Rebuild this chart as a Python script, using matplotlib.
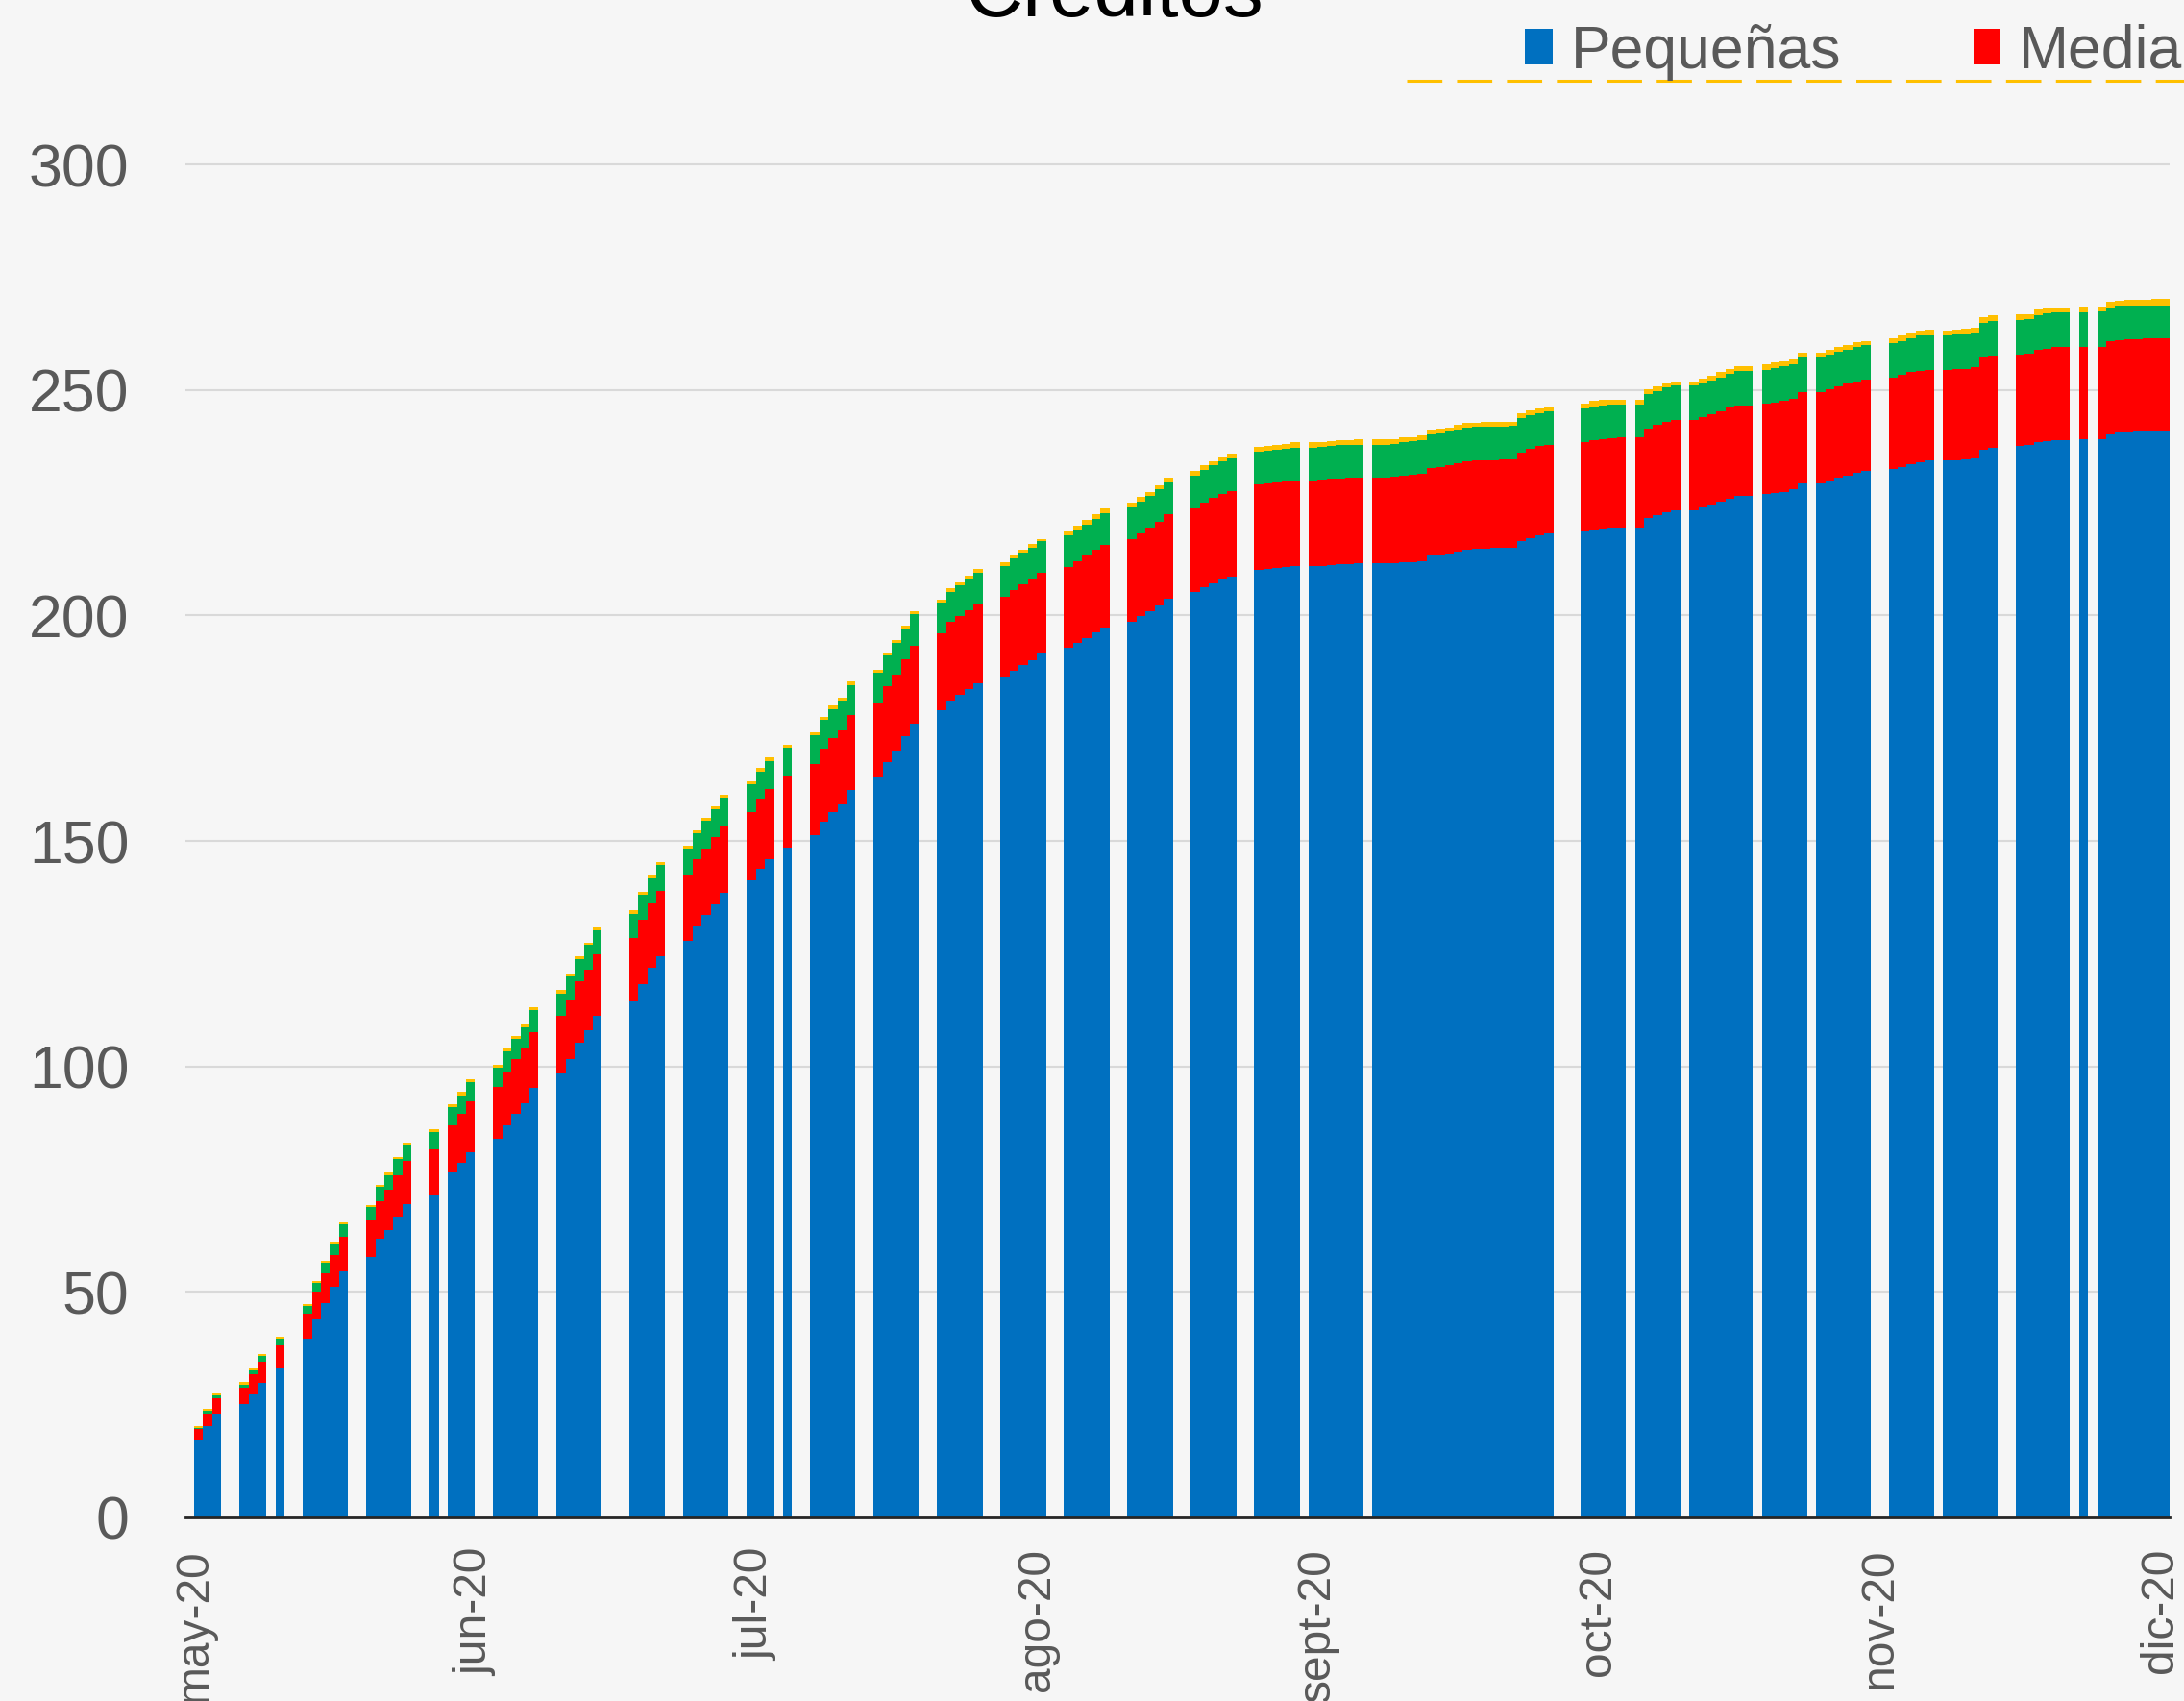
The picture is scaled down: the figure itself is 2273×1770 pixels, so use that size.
import numpy as np
import pandas as pd
import matplotlib
matplotlib.use("Agg")
import matplotlib.pyplot as plt
import matplotlib.dates as mdates
from matplotlib.patches import Patch
from matplotlib.lines import Line2D

plt.rcParams['font.family'] = ['Liberation Sans', 'DejaVu Sans']

# Runs of consecutive reporting days (start date, number of days)
inicio_tramos = ['2020-05-13', '2020-05-18', '2020-05-22', '2020-05-25', '2020-06-01',
                 '2020-06-08', '2020-06-10', '2020-06-15', '2020-06-22', '2020-06-30',
                 '2020-07-06', '2020-07-13', '2020-07-17', '2020-07-20', '2020-07-27',
                 '2020-08-03', '2020-08-10', '2020-08-17', '2020-08-24', '2020-08-31',
                 '2020-09-07', '2020-09-13', '2020-09-20', '2020-10-13', '2020-10-19',
                 '2020-10-25', '2020-11-02', '2020-11-08', '2020-11-16', '2020-11-22',
                 '2020-11-30', '2020-12-07', '2020-12-09']
dias_tramos = [3, 3, 1, 5, 5, 1, 3, 5, 5, 4, 5, 3, 1, 5, 5, 5, 5, 5, 5, 5,
               5, 6, 20, 5, 5, 7, 5, 6, 5, 6, 6, 1, 8]

# Pequeñas (miles de créditos)
pequenas = [
    17.3, 20.2, 23.1,
    25.1, 27.3, 29.8,
    33.0,
    39.6, 44.0, 47.6, 51.1, 54.5,
    57.8, 61.8, 63.8, 66.7, 69.5,
    71.7,
    76.5, 78.7, 81.0,
    84.0, 86.9, 89.4, 91.8, 95.2,
    98.4, 101.7, 105.3, 108.0, 111.2,
    114.5, 118.3, 121.9, 124.5,
    127.9, 131.1, 133.6, 135.9, 138.4,
    141.2, 143.9, 146.0,
    148.5,
    151.2, 154.3, 156.5, 158.2, 161.3,
    164.0, 167.5, 170.0, 173.2, 176.1,
    178.9, 181.1, 182.4, 183.7, 185.0,
    186.5, 187.7, 189.0, 190.1, 191.5,
    192.8, 193.8, 194.9, 196.2, 197.4,
    198.7, 199.9, 201.0, 202.3, 203.7,
    205.3, 206.3, 207.2, 207.9, 208.7,
    210.0, 210.3, 210.5, 210.7, 210.9,
    210.9, 211.0, 211.2, 211.3, 211.4, 211.5,
    211.5, 211.5, 211.5, 211.7, 211.8, 212.1, 213.4, 213.4, 213.8, 214.2,
    214.6, 214.7, 214.8, 214.9, 214.9, 214.9, 216.4, 217.1, 217.7, 218.2,
    218.6, 218.9, 219.3, 219.4, 219.4,
    219.5, 221.7, 222.3, 222.8, 223.4,
    223.4, 223.9, 224.5, 225.2, 225.9, 226.5, 226.5,
    226.9, 227.2, 227.4, 227.9, 229.3,
    229.3, 229.9, 230.5, 231.0, 231.6, 232.0,
    232.5, 233.0, 233.5, 234.0, 234.3,
    234.3, 234.4, 234.5, 234.8, 236.8, 237.2,
    237.6, 237.7, 238.4, 238.7, 238.9, 238.9,
    239.1,
    239.1, 240.2, 240.6, 240.6, 240.7, 240.8, 240.9, 241.0,
]

# stack level after adding Medianas
nivel_medianas = [
    19.7, 23.1, 26.4,
    28.8, 31.7, 34.5,
    38.2,
    45.2, 50.1, 54.2, 58.2, 62.2,
    65.8, 70.2, 72.6, 75.9, 79.1,
    81.7,
    87.0, 89.5, 92.3,
    95.5, 98.9, 101.6, 104.0, 107.7,
    111.2, 114.7, 118.8, 121.5, 124.8,
    128.5, 132.5, 136.1, 138.9,
    142.3, 145.9, 148.4, 150.9, 153.4,
    156.5, 159.3, 161.6,
    164.4,
    167.1, 170.4, 172.9, 174.5, 177.9,
    180.6, 184.3, 186.9, 190.2, 193.3,
    196.1, 198.5, 199.8, 201.2, 202.7,
    204.1, 205.6, 206.9, 208.2, 209.5,
    210.8, 212.0, 213.2, 214.5, 215.7,
    217.0, 218.2, 219.4, 220.8, 222.4,
    223.7, 225.1, 226.0, 226.9, 227.6,
    229.0, 229.3, 229.5, 229.8, 230.0,
    230.0, 230.1, 230.3, 230.4, 230.5, 230.6,
    230.6, 230.6, 230.7, 230.9, 231.1, 231.4, 232.7, 232.8, 233.3, 233.8,
    234.2, 234.3, 234.4, 234.4, 234.5, 234.5, 236.2, 236.9, 237.5, 237.9,
    238.4, 238.9, 239.1, 239.3, 239.4,
    239.4, 241.5, 242.3, 242.9, 243.4,
    243.4, 243.9, 244.6, 245.3, 246.1, 246.6, 246.6,
    246.9, 247.2, 247.6, 248.0, 249.5,
    249.5, 250.1, 250.8, 251.4, 251.9, 252.3,
    252.7, 253.3, 253.9, 254.3, 254.5,
    254.5, 254.6, 254.6, 255.1, 257.2, 257.7,
    257.9, 258.0, 258.8, 259.2, 259.5, 259.5,
    259.6,
    259.6, 260.8, 261.1, 261.2, 261.3, 261.5, 261.5, 261.5,
]

# stack level after adding Grandes I
nivel_grandes = [
    19.8, 23.6, 27.0,
    29.5, 32.5, 35.7,
    39.6,
    46.9, 52.0, 56.4, 60.7, 64.9,
    68.8, 73.3, 75.9, 79.4, 82.7,
    85.4,
    90.9, 93.5, 96.5,
    99.7, 103.3, 106.2, 108.7, 112.6,
    116.2, 120.0, 123.8, 126.9, 130.3,
    133.9, 138.0, 141.8, 144.6,
    148.2, 151.7, 154.4, 157.0, 159.5,
    162.6, 165.4, 167.8,
    170.6,
    173.4, 176.8, 179.3, 181.1, 184.6,
    187.3, 191.2, 193.8, 197.2, 200.3,
    202.8, 205.3, 206.6, 208.1, 209.5,
    211.0, 212.6, 213.9, 215.1, 216.4,
    217.7, 218.9, 220.2, 221.5, 222.6,
    224.0, 225.2, 226.5, 227.9, 229.4,
    231.0, 232.3, 233.3, 234.2, 234.9,
    236.3, 236.5, 236.8, 237.0, 237.2,
    237.2, 237.4, 237.6, 237.7, 237.8, 237.9,
    237.9, 237.9, 238.1, 238.4, 238.6, 238.9, 240.2, 240.4, 240.7, 241.3,
    241.6, 241.8, 241.9, 241.9, 241.9, 242.0, 243.8, 244.4, 244.8, 245.3,
    245.8, 246.3, 246.6, 246.8, 246.8,
    246.8, 249.1, 249.8, 250.5, 251.0,
    251.0, 251.4, 252.1, 252.8, 253.6, 254.2, 254.2,
    254.5, 254.8, 255.2, 255.6, 257.1,
    257.1, 257.8, 258.5, 259.0, 259.5, 259.9,
    260.4, 260.9, 261.5, 262.0, 262.1,
    262.1, 262.3, 262.4, 262.7, 264.9, 265.3,
    265.6, 265.8, 266.6, 267.0, 267.2, 267.2,
    267.2,
    267.4, 268.2, 268.6, 268.7, 268.7, 268.8, 268.8, 268.8,
]

# total (top of the yellow segment)
nivel_total = [
    20.2, 24.1, 27.5,
    30.0, 33.1, 36.2,
    40.1,
    47.4, 52.5, 56.9, 61.2, 65.4,
    69.3, 73.8, 76.4, 79.9, 83.2,
    86.0,
    91.6, 94.3, 97.2,
    100.4, 104.0, 106.8, 109.4, 113.2,
    116.9, 120.6, 124.5, 127.5, 130.9,
    134.7, 138.7, 142.6, 145.4,
    148.9, 152.4, 155.1, 157.7, 160.2,
    163.2, 166.1, 168.6,
    171.3,
    174.1, 177.6, 180.1, 181.8, 185.3,
    188.0, 191.8, 194.5, 197.8, 200.9,
    203.6, 206.1, 207.4, 208.9, 210.3,
    211.8, 213.3, 214.6, 215.8, 217.0,
    218.6, 219.8, 221.1, 222.5, 223.7,
    225.1, 226.2, 227.4, 228.9, 230.5,
    232.0, 233.3, 234.2, 235.1, 235.8,
    237.3, 237.6, 237.9, 238.1, 238.4,
    238.4, 238.5, 238.7, 238.8, 238.9, 239.0,
    239.0, 239.0, 239.1, 239.4, 239.6, 239.9, 241.2, 241.4, 241.7, 242.3,
    242.6, 242.8, 242.9, 242.9, 242.9, 243.0, 244.8, 245.4, 245.8, 246.3,
    247.0, 247.5, 247.8, 247.9, 247.9,
    247.9, 250.2, 250.8, 251.4, 251.9,
    251.9, 252.6, 253.1, 253.9, 254.7, 255.3, 255.3,
    255.7, 256.1, 256.4, 256.8, 258.2,
    258.2, 258.8, 259.5, 260.0, 260.5, 260.9,
    261.5, 262.0, 262.6, 263.1, 263.4,
    263.2, 263.4, 263.5, 263.9, 266.1, 266.5,
    266.8, 266.8, 267.8, 268.1, 268.3, 268.3,
    268.4,
    268.5, 269.5, 269.8, 269.9, 269.9, 270.0, 270.1, 270.1,
]

series = ['Pequeñas', 'Medianas', 'Grandes I', 'Grandes II']
colores = ['#0070C0', '#FF0000', '#00B050', '#FFC000']

fechas_ticks = ['2020-05-13', '2020-06-13', '2020-07-14', '2020-08-14',
                '2020-09-14', '2020-10-15', '2020-11-15', '2020-12-16']
etiquetas_ticks = ['may-20', 'jun-20', 'jul-20', 'ago-20', 'sept-20',
                   'oct-20', 'nov-20', 'dic-20']

# dates of every bar
fechas = pd.DatetimeIndex(np.concatenate(
    [pd.date_range(ini, periods=n, freq='D').values
     for ini, n in zip(inicio_tramos, dias_tramos)]))
x = mdates.date2num(fechas.to_pydatetime())

niveles = [np.zeros(len(pequenas)), np.array(pequenas), np.array(nivel_medianas),
           np.array(nivel_grandes), np.array(nivel_total)]

W, H = 2273, 1770
fig = plt.figure(figsize=(W / 100, H / 100), dpi=100)
fig.patch.set_facecolor('#f6f6f6')

top_px = 1579 - 300.5 * 4.693
ax = fig.add_axes([193 / W, 1 - 1579 / H, (2258 - 193) / W, (1579 - top_px) / H])
ax.set_facecolor('none')

for i in range(4):
    ax.bar(x, niveles[i + 1] - niveles[i], bottom=niveles[i], width=1.0,
           align='edge', color=colores[i], linewidth=0, zorder=2)

x0 = mdates.date2num(pd.Timestamp('2020-05-13').to_pydatetime())
ax.set_xlim(x0 - 0.955, x0 + 218)
ax.set_ylim(0, 300.5)

ax.set_yticks(np.arange(0, 301, 50))
ax.yaxis.grid(True, color='#d9d9d9', linewidth=1.5, zorder=0)
ax.set_axisbelow(True)

ax.set_xticks(mdates.date2num(pd.to_datetime(fechas_ticks).to_pydatetime()))
ax.set_xticklabels(etiquetas_ticks, rotation=90)

ax.tick_params(axis='y', length=0, pad=42, labelsize=45, labelcolor='#595959')
ax.tick_params(axis='x', length=0, pad=23, labelsize=34.5, labelcolor='#595959')

for s in ['top', 'right', 'left']:
    ax.spines[s].set_visible(False)
ax.spines['bottom'].set_color('#262626')
ax.spines['bottom'].set_linewidth(2)
ax.spines['bottom'].set_zorder(3)

fig.text(1160 / W, 1 - 17 / H, 'Créditos', ha='center', va='baseline',
         fontsize=60, color='black')

handles = [Patch(facecolor=c, edgecolor='none') for c in colores]
fig.legend(handles, series, loc='center left',
           bbox_to_anchor=(1587 / W, 1 - 54 / H), bbox_transform=fig.transFigure,
           ncol=4, frameon=False, fontsize=45, labelcolor='#595959',
           handlelength=0.46, handleheight=0.52, handletextpad=0.3,
           columnspacing=2.2, borderpad=0, borderaxespad=0)

fig.add_artist(Line2D([1464 / W, 1.0], [1 - 84 / H, 1 - 84 / H],
                      transform=fig.transFigure, color='#FFC000',
                      linewidth=2.2, dashes=(12, 5)))

fig.savefig('out.png', dpi=100, facecolor=fig.get_facecolor())
